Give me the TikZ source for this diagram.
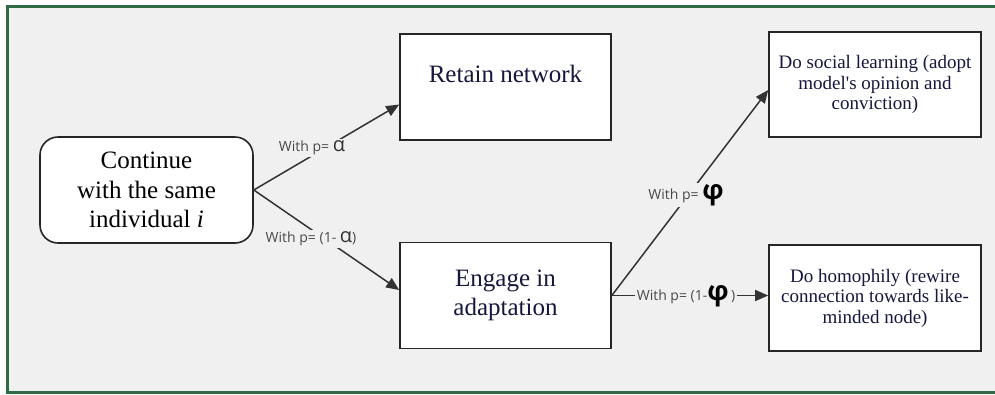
\documentclass[tikz,border=0pt]{standalone}
\usepackage{fontspec}
\setmainfont{Liberation Serif}[Ligatures=TeXReset]
\newfontfamily\labelfont{Open Sans}
\usetikzlibrary{arrows.meta}

\definecolor{panelbg}{HTML}{F0F0F0}
\definecolor{framegreen}{HTML}{2F6A45}
\definecolor{inkline}{HTML}{333333}
\definecolor{navytext}{HTML}{16163F}
\definecolor{labelgray}{HTML}{4A4A4A}

\tikzset{
  box/.style={draw=black!85, line width=1.6pt, fill=white, minimum width=211pt,
    minimum height=106pt, inner sep=0pt, align=center, text=navytext},
  bigtext/.style={font=\fontsize{25}{29.5}\selectfont},
  smalltext/.style={font=\fontsize{19}{20.5}\selectfont},
  flow/.style={draw=inkline, line width=1.5pt, -{Triangle[length=13pt,width=11pt]}},
  prob/.style={font=\labelfont\fontsize{14}{16}\selectfont, text=labelgray,
    fill=panelbg, inner sep=1.5pt},
}
\newcommand{\alphasym}{{\fontsize{20}{20}\selectfont\color{black!80}α}}
\newcommand{\phisym}{{\bfseries\fontsize{27}{27}\selectfont\color{black}φ}}

\begin{document}
\begin{tikzpicture}[x=1pt,y=-1pt]
  \useasboundingbox (0,0) rectangle (995,394);

  % panel with its green frame (open on the right)
  \fill[panelbg] (7,7) rectangle (995,392);
  \draw[framegreen, line width=3pt] (995,6.5) -- (7.5,6.5) -- (7.5,392) -- (995,392);

  % boxes
  \node[box, bigtext, rounded corners=18pt, minimum width=213pt, text=black]
    (cont) at (146.5,190) {Continue\\with the same\\individual \textit{i}};
  \node[box, bigtext, text height=48pt, text depth=58pt]
    (retain) at (505.5,87) {Retain network};
  \node[box, bigtext] (engage) at (505.5,295.5) {Engage in\\adaptation};
  \node[box, smalltext, minimum width=212pt, minimum height=105pt]
    (social) at (875,84.5) {Do social learning (adopt\\model's opinion and\\conviction)};
  \node[box, smalltext, minimum width=212pt]
    (homo) at (875,298) {Do homophily (rewire\\connection towards like-\\minded node)};

  % connectors
  \draw[flow] (cont.east) -- ([yshift=-17.5pt]retain.west);
  \draw[flow] (cont.east) -- ([yshift=5.5pt]engage.west);
  \draw[flow] (engage.east) -- ([yshift=-5.5pt]social.west);
  \draw[flow] (engage.east) -- (engage.east -| homo.west);

  % probability labels
  \node[prob] (pa) at (312,148) {With p= \alphasym};
  \node[prob] (pna) at (311,239) {With p= (1- \alphasym)};
  \node[prob] (pf) at (686,195) {With p= \phisym};
  \node[prob] (pnf) at (686,296) {With p= (1-\phisym\,)};
\end{tikzpicture}
\end{document}
